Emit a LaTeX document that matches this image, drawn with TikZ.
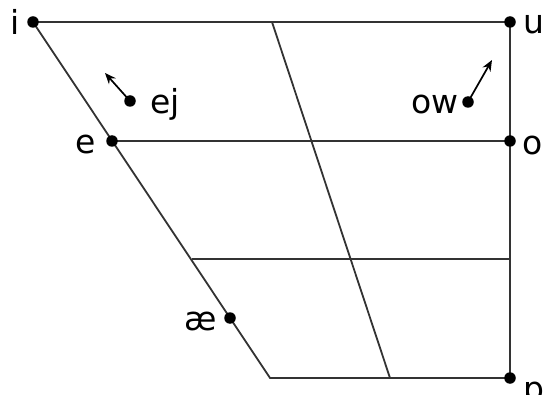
\documentclass[tikz,border=0pt]{standalone}
\usepackage{fontspec}
\setmainfont{DejaVu Sans}
\usetikzlibrary{arrows.meta}
\definecolor{linec}{HTML}{333333}
\begin{document}
\begin{tikzpicture}[x=1pt,y=-1pt,
  grid/.style={draw=linec,line width=1.8pt},
  vdot/.style={circle,fill=black,inner sep=0pt,minimum size=11.5pt},
  lbl/.style={inner sep=0pt,anchor=mid,font=\fontsize{33}{36}\selectfont},
  glide/.style={draw=black,line width=1.7pt,-{Stealth[length=11pt,width=9pt]}}]
\useasboundingbox (0,0) rectangle (543,395);
% corners
\coordinate (I) at (33,22);
\coordinate (U) at (510,22);
\coordinate (E) at (112,141);
\coordinate (O) at (510,141);
\coordinate (L3) at (192,259);
\coordinate (R3) at (510,259);
\coordinate (BL) at (270,378);
\coordinate (P) at (510,378);
\coordinate (CT) at (272,22);
\coordinate (CB) at (390,378);
\coordinate (AE) at (230,318);
\coordinate (EJ) at (130,101);
\coordinate (EJt) at (105,73);
\coordinate (OW) at (468,102);
\coordinate (OWt) at (492,60);
% grid
\draw[grid] (I) -- (U) -- (P) -- (BL) -- cycle;
\draw[grid] (E) -- (O);
\draw[grid] (L3) -- (R3);
\draw[grid] (CT) -- (CB);
% glides
\draw[glide] (EJ) -- (EJt);
\draw[glide] (OW) -- (OWt);
% dots
\foreach \p in {I,U,E,O,P,AE,EJ,OW} \node[vdot] at (\p) {};
% labels
\node[lbl] (li) at (15,32) {i};
\node[lbl] (lu) at (534,31) {u};
\node[lbl] (le) at (86,151) {e};
\node[lbl] (lo) at (533,152) {o};
\node[lbl] (lp) at (534,398) {ɒ};
\node[lbl] (lae) at (201,328) {æ};
\node[lbl] (lej) at (165,111) {ej};
\node[lbl] (low) at (435,111) {ow};
\end{tikzpicture}
\end{document}
